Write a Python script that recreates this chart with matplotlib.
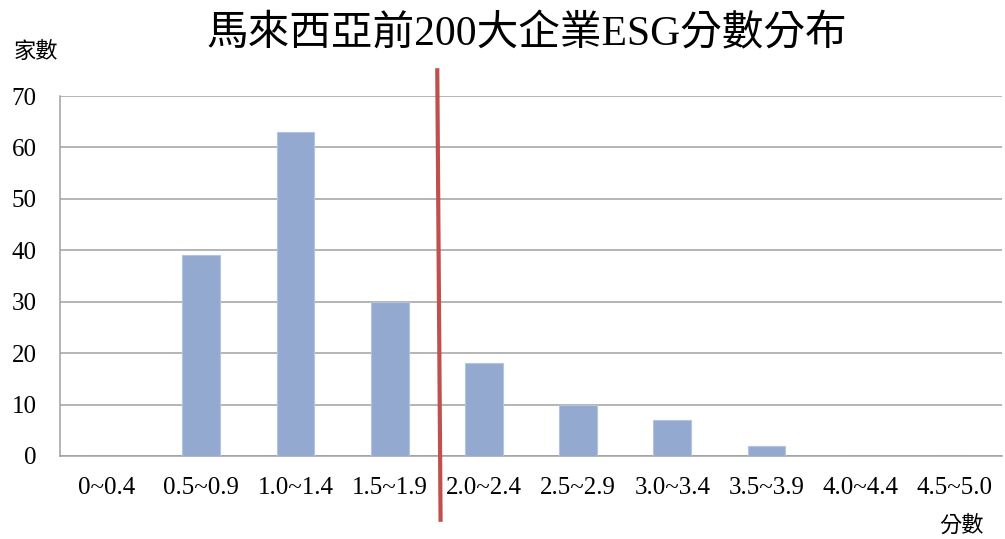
import matplotlib.pyplot as plt
import numpy as np

plt.rcParams['font.family'] = ['Liberation Serif', 'Noto Sans CJK TC']

# score bins and number of companies
categories = ['0~0.4', '0.5~0.9', '1.0~1.4', '1.5~1.9', '2.0~2.4',
              '2.5~2.9', '3.0~3.4', '3.5~3.9', '4.0~4.4', '4.5~5.0']
counts = [0, 39, 63, 30, 18, 10, 7, 2, 0, 0]
y_ticks = [0, 10, 20, 30, 40, 50, 60, 70]

# divider between 1.5~1.9 and 2.0~2.4
divider_x = [3.505, 3.54]
divider_y = [75, -12.4]

fig = plt.figure(figsize=(10.05, 5.39), dpi=100)
ax = fig.add_axes([60 / 1005, (539 - 456) / 539, 942 / 1005, 360 / 539])

x = np.arange(len(categories))
ax.bar(x, counts, width=0.4, color='#94A9D0', edgecolor='#B4C4E0', linewidth=0.8, zorder=3)

ax.set_xlim(-0.5, len(categories) - 0.5)
ax.set_ylim(0, 70)
ax.set_yticks(y_ticks)
ax.set_xticks(x)
ax.set_xticklabels(categories)
ax.tick_params(axis='both', length=0, labelsize=18)
ax.tick_params(axis='y', pad=17)
ax.tick_params(axis='x', pad=15)

ax.grid(axis='y', color='#A0A0A0', linewidth=1.1, zorder=0)
for side in ['top', 'right']:
    ax.spines[side].set_visible(False)
for side in ['left', 'bottom']:
    ax.spines[side].set_color('#A0A0A0')
    ax.spines[side].set_linewidth(1.1)

ax.plot(divider_x, divider_y, color='#C0504D', linewidth=3, clip_on=False, zorder=5)

fig.text(527 / 1005, 1 - 35 / 539, '馬來西亞前200大企業ESG分數分布',
         fontsize=30, fontweight='light', ha='center', va='center')
fig.text(36 / 1005, 1 - 52 / 539, '家數', fontsize=16, fontweight='light',
         ha='center', va='center')
fig.text(961 / 1005, 1 - 526 / 539, '分數', fontsize=16, fontweight='light',
         ha='center', va='center')

plt.savefig('out.png', dpi=100)
